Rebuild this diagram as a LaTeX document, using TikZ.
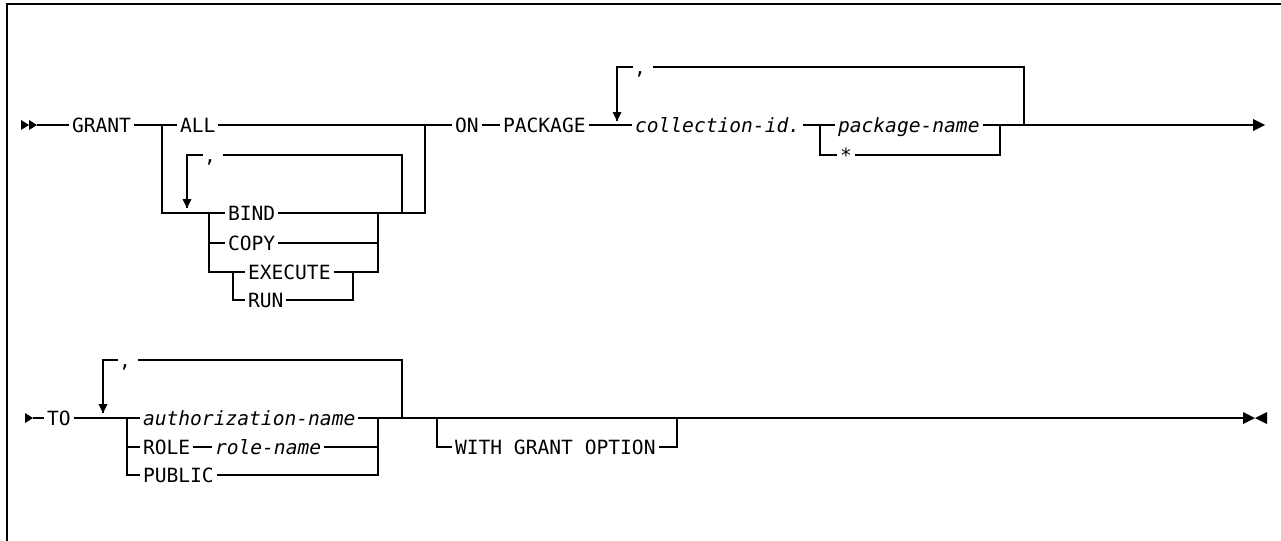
\documentclass[tikz,border=0pt]{standalone}
\usepackage{fontspec}
\setmonofont{DejaVu Sans Mono}
\usetikzlibrary{positioning,calc}
\tikzset{kw/.style={anchor=west,inner sep=1.5pt,outer sep=0pt,text height=7.4pt,text depth=0.3pt,font=\ttfamily\fontsize{9.8}{11}\selectfont}}
\tikzset{var/.style={kw,font=\ttfamily\itshape\fontsize{9.8}{11}\selectfont}}
\tikzset{sep/.style={kw,anchor=center,inner xsep=0.5pt}}
\tikzset{rail/.style={line width=0.8pt}}
\tikzset{headR/.pic={\fill (0,0) -- (-8,-5) -- (-8,5) -- cycle;}}
\tikzset{stopR/.pic={\fill (0,0) -- (-12,-6) -- (-12,6) -- cycle;}}
\tikzset{stopL/.pic={\fill (0,0) -- (12,-6) -- (12,6) -- cycle;}}
\tikzset{headD/.pic={\fill (0,0) -- (-4.5,-9) -- (4.5,-9) -- cycle;}}

\begin{document}
\begin{tikzpicture}[x=0.5pt,y=-0.5pt]
	\useasboundingbox (0,0) rectangle (1281,541);
	\draw[line width=1pt] (7,541) -- (7,4) -- (1281,4);
	% GRANT ... ON PACKAGE
		\coordinate (s1) at (37,125);
		\node[kw] (grant) at (69,125) {GRANT};
		\coordinate (a1) at (162,125);
		\node[kw] (all) at (177,125) {ALL};
		\coordinate (a2) at (425,125);
		\coordinate (b1) at (209,213);
		\coordinate (b2) at (378,213);
			\node[kw] (bind) at (225,213) {BIND};
			\node[kw] (copy) at (225,243) {COPY};
			\node[kw] (exec) at (245,272) {EXECUTE};
			\node[kw] (run) at (245,300) {RUN};
			\coordinate (e1) at (233,272);
			\coordinate (e2) at (353,272);
		\coordinate (t1) at (187,208);
		\coordinate (l1) at (187,155);
		\node[sep] (cm1) at (210,155) {,};
		\coordinate (l2) at (402,155);
		\node[kw] (on) at (452,125) {ON};
		\node[kw] (pkg) at (500,125) {PACKAGE};
		\node[var] (coll) at (632,125) {collection-id.};
		\coordinate (p1) at (820,125);
		\node[var] (pname) at (835,125) {package-name};
		\node[kw] (star) at (837,155) {*};
		\coordinate (p2) at (1000,125);
		\coordinate (t2) at (617,121);
		\coordinate (m1) at (617,67);
		\node[sep] (cm2) at (640,67) {,};
		\coordinate (m2) at (1024,67);
		\coordinate (end1) at (1265,125);
	\draw[rail] (s1) -- (grant.west) (grant.east) -- (all.west) (all.east) -- (a2) -- (on.west);
	\draw[rail] (a1) |- (bind.west) (bind.east) -- (a2 |- bind) -- (a2);
	\draw[rail] (b1) |- (copy.west) (b1) |- (e1) |- (run.west) (e1) -- (exec.west);
	\draw[rail] (exec.east) -- (e2) |- (run.east) (e2) -- (b2 |- e2) -- (b2) (copy.east) -- (b2 |- copy);
	\draw[rail,shorten <=3pt] (t1) -- (l1) -- (cm1.west) (cm1.east) -- (l2) -- (l2 |- bind);
	\draw[rail] (on.east) -- (pkg.west) (pkg.east) -- (coll.west) (coll.east) -- (p1) -- (pname.west);
	\draw[rail,shorten >=3pt] (pname.east) -- (end1);
	\draw[rail] (p1) |- (star.west) (star.east) -| (p2);
	\draw[rail,shorten <=3pt] (t2) -- (m1) -- (cm2.west) (cm2.east) -- (m2) -- (m2 |- p2);
	\pic at (29,125) {headR};
	\pic at (s1) {headR};
	\pic at (t1) {headD};
	\pic at (t2) {headD};
	\pic at (end1) {stopR};
	% TO ... WITH GRANT OPTION
		\coordinate (s2) at (33,418);
		\node[kw] (to) at (44,418) {TO};
		\coordinate (q1) at (127,418);
		\node[var] (auth) at (140,418) {authorization-name};
		\node[kw] (role) at (140,447) {ROLE};
		\node[var] (rname) at (212,447) {role-name};
		\node[kw] (public) at (140,475) {PUBLIC};
		\coordinate (q2) at (378,418);
		\coordinate (t3) at (103,413);
		\coordinate (n1) at (103,360);
		\node[sep] (cm3) at (125,360) {,};
		\coordinate (n2) at (402,360);
		\coordinate (w1) at (437,418);
		\node[kw] (wgo) at (452,447) {WITH GRANT OPTION};
		\coordinate (w2) at (677,418);
		\coordinate (end2) at (1243,418);
	\draw[rail] (s2) -- (to.west) (to.east) -- (auth.west) (auth.east) -- (q2) -- (end2);
	\draw[rail] (q1) |- (role.west) (role.east) -- (rname.west) (rname.east) -- (q2 |- role);
	\draw[rail] (q1) |- (public.west) (public.east) -| (q2);
	\draw[rail,shorten <=3pt] (t3) -- (n1) -- (cm3.west) (cm3.east) -- (n2) -- (n2 |- auth);
	\draw[rail] (w1) |- (wgo.west) (wgo.east) -| (w2);
	\pic at (s2) {headR};
	\pic at (t3) {headD};
	\pic at (1255,418) {stopR};
	\pic at (1255,418) {stopL};
\end{tikzpicture}
\end{document}
